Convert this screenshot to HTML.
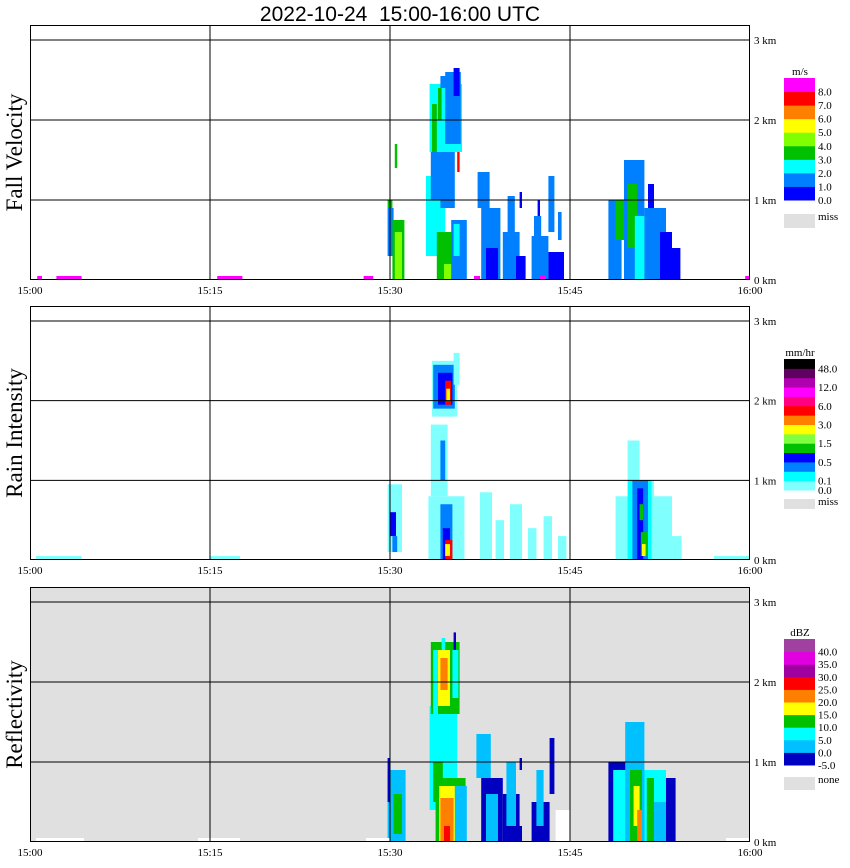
<!DOCTYPE html>
<html><head><meta charset="utf-8"><style>
body{margin:0;background:#fff;width:850px;height:868px;overflow:hidden}
svg{display:block}
text{font-family:"Liberation Serif",serif;fill:#000}
</style></head><body>
<svg id="chart" width="850" height="868" xmlns="http://www.w3.org/2000/svg">
<text x="400" y="21" text-anchor="middle" style="font-family:'Liberation Sans',sans-serif;font-size:21px;white-space:pre">2022-10-24  15:00-16:00 UTC</text>
</svg>
<script>
// time ticks (minutes after 15:00)
const timeTicks=[0,15,30,45,60];
const timeLabels=["15:00","15:15","15:30","15:45","16:00"];
const heightTicks=[0,1,2,3];
const heightLabels=["0 km","1 km","2 km","3 km"];
// colour scales
const velColors=["#0000ff","#0080ff","#00ffff","#00c000","#80ff00","#ffff00","#ff8000","#ff0000","#ff00ff"];
const velLabels=["0.0","1.0","2.0","3.0","4.0","5.0","6.0","7.0","8.0"];
const rainColors=["#80ffff","#00ffff","#0080ff","#0000ff","#00c000","#80ff40","#ffff00","#ff8000","#ff0000","#ff0080","#ff00ff","#b000b0","#600060","#000000"];
const rainLabels=["0.0","0.1","","0.5","","1.5","","3.0","","6.0","","12.0","","48.0"];
const dbzColors=["#0000c0","#00c0ff","#00ffff","#00c000","#ffff00","#ff8000","#ff0000","#a000a0","#e000e0","#a040a0"];
const dbzLabels=["-5.0","0.0","5.0","10.0","15.0","20.0","25.0","30.0","35.0","40.0"];
// echo rectangles [t0,t1,h0,h1,level]
const velRects=[[29.8,30.3,0.3,0.9,1],[29.8,30.2,0.9,1.0,3],[30.2,31.2,0,0.75,3],[30.4,31.0,0,0.6,4],[30.4,30.6,1.4,1.7,3],
[33.0,34.6,0.3,1.3,2],[34.2,35.4,0.9,1.7,1],[33.4,34.4,1.0,1.6,1],[33.3,36.0,1.6,2.45,2],[34.6,35.9,1.7,2.6,1],[33.5,33.9,1.6,2.2,3],[34.0,34.3,2.0,2.4,3],[35.3,35.8,2.3,2.65,0],[34.2,34.7,2.4,2.55,1],[33.9,36.0,0,0.6,3],[34.5,35.2,0,0.2,4],[35.1,36.4,0,0.75,1],[35.3,35.8,0.3,0.7,2],[35.6,35.8,1.35,1.6,7],
[37.3,38.3,0.9,1.35,1],[37.6,39.2,0,0.9,1],[38.0,39.0,0,0.4,0],[39.4,40.8,0,0.6,1],[39.8,40.4,0.6,1.05,1],[40.5,41.3,0,0.3,0],[41.8,43.2,0,0.55,1],[42.0,42.6,0.3,0.8,1],[43.2,44.5,0,0.35,0],[43.2,43.7,0.6,1.3,1],[44.0,44.3,0.5,0.85,1],[40.8,41.0,0.9,1.1,0],[42.3,42.5,0.8,1.0,0],
[48.2,49.3,0,1.0,1],[48.8,49.5,0.5,1.0,3],[49.5,51.2,0,1.5,1],[49.8,50.6,0.4,1.2,3],[50.4,51.5,0,0.8,2],[51.2,53.0,0,0.9,1],[52.5,53.5,0,0.6,0],[53.2,54.2,0,0.4,0],[49.7,50.3,1.2,1.5,1],[51.5,52,0.9,1.2,0],
[0.6,1.0,0,0.05,8],[2.2,4.3,0,0.05,8],[15.6,17.7,0,0.05,8],[27.8,28.6,0,0.05,8],[59.6,60,0,0.05,8],[37,37.5,0,0.05,8],[42.5,43,0,0.05,8]];
const rainRects=[[29.8,31.0,0.1,0.95,0],[30.0,30.5,0.3,0.6,3],[30.2,30.6,0.1,0.3,2],
[33.2,36.2,0,0.8,0],[33.4,34.8,0.8,1.7,0],[34.2,35.2,0,0.7,2],[34.4,35.0,0,0.4,3],[34.6,35.2,0,0.25,8],[34.6,35.0,0.05,0.2,6],[33.5,35.6,1.8,2.5,0],[33.6,35.4,1.9,2.45,2],[34.0,35.2,1.95,2.35,3],[34.6,35.1,1.95,2.25,8],[34.7,35.0,2.0,2.15,6],[35.3,35.8,2.2,2.6,0],[34.2,34.6,1.0,1.5,2],
[37.5,38.5,0,0.85,0],[38.8,39.5,0,0.5,0],[40,41,0,0.7,0],[41.5,42.2,0,0.4,0],[42.8,43.5,0,0.55,0],[44,44.7,0,0.3,0],
[48.8,50,0,0.8,0],[50,52,0,1.0,0],[52,53.5,0,0.8,0],[53.5,54.3,0,0.3,0],[49.8,51.8,0,1.0,1],[50.2,51.5,0,1.0,2],[50.6,51.1,0,0.9,3],[50.8,51.1,0.5,0.7,4],[50.9,51.5,0.05,0.35,4],[51.0,51.3,0.05,0.2,6],[49.8,50.8,1.0,1.5,0],
[0.5,4.3,0,0.05,0],[15.0,17.5,0,0.05,0],[57,60,0,0.05,0]];
const dbzRects=[[29.8,31.3,0,0.9,1],[30.3,31.0,0.1,0.6,3],[29.8,30.0,0.5,1.05,0],
[33.3,35.6,0.4,1.7,2],[33.6,34.4,0.5,1.0,3],[33.8,36.3,0,0.8,3],[34.1,35.5,0,0.7,4],[34.2,35.3,0,0.55,5],[34.5,35.0,0,0.2,6],[35.4,36.4,0,0.7,1],[33.4,35.8,1.6,2.5,3],[33.6,34.0,1.5,2.4,2],[34.0,35.0,1.7,2.4,4],[34.2,34.8,1.9,2.3,5],[35.2,35.7,1.8,2.4,2],[35.3,35.5,2.4,2.62,0],[34.3,34.6,2.4,2.55,2],
[37.2,38.4,0.8,1.35,1],[37.6,39.4,0,0.8,0],[38.0,39.0,0,0.6,1],[39.4,40.8,0,0.6,0],[39.7,40.5,0.2,1.0,1],[41.8,43.3,0,0.5,0],[42.2,42.8,0.2,0.9,1],[43.8,45,0,0.4,-1],[43.3,43.7,0.6,1.3,0],[40.5,41.0,0,0.2,0],[40.8,41,0.9,1.05,0],
[48.2,50.0,0,1.0,0],[48.6,53.0,0,0.9,2],[49.6,51.2,0,1.5,1],[50.0,51.0,0,0.9,3],[50.3,50.8,0.2,0.7,4],[50.6,51.0,0,0.4,5],[51.4,52.0,0,0.8,3],[53,53.8,0,0.8,0],[52.0,53.0,0,0.5,1],
[0.5,4.5,0,0.05,-1],[14,17.5,0,0.05,-1],[28,30,0,0.05,-1],[58,60,0,0.05,-1]];

const NS="http://www.w3.org/2000/svg";
const svg=document.getElementById('chart');
function mk(tag,attrs,parent){const e=document.createElementNS(NS,tag);for(const k in attrs)e.setAttribute(k,attrs[k]);(parent||svg).appendChild(e);return e;}
const X0=30,X1=750;
function xScale(t){return X0+t/60*(X1-X0);}

const panels=[
 {name:"fall-velocity",title:"Fall Velocity",top:25,bottom:280,bg:"#fff",rects:velRects,colors:velColors,labels:velLabels,unit:"m/s",barTop:78,barH:122,miss:"miss",missY:214,missH:14},
 {name:"rain-intensity",title:"Rain Intensity",top:306,bottom:560,bg:"#fff",rects:rainRects,colors:rainColors,labels:rainLabels,unit:"mm/hr",barTop:359,barH:131,miss:"miss",missY:499,missH:10},
 {name:"reflectivity",title:"Reflectivity",top:587,bottom:842,bg:"#e0e0e0",rects:dbzRects,colors:dbzColors,labels:dbzLabels,unit:"dBZ",barTop:639,barH:126,miss:"none",missY:777,missH:13}
];
panels.forEach(p=>{
 const g=mk('g',{});
 
 
 const kmPx=(p.bottom-p.top-15)/3;
 const yScale=h=>p.bottom-h*kmPx;
 const bg=mk('rect',{x:X0,y:p.top,width:X1-X0,height:p.bottom-p.top,fill:p.bg},g);
 
 
 p.rects.forEach(r=>{
  const x0=xScale(r[0]),x1=xScale(r[1]),y0=yScale(r[3]),y1=yScale(r[2]);
  const c=r[4]<0?"#fff":p.colors[r[4]];
  const e=mk('rect',{x:x0,y:y0,width:Math.max(1,x1-x0),height:Math.max(2,y1-y0),fill:c},g);
  
  
 });
 heightTicks.forEach((h,i)=>{
  if(h>0){const l=mk('line',{x1:X0,x2:X1,y1:yScale(h),y2:yScale(h),stroke:"#000","stroke-width":1},g);
   }
  const t=mk('text',{x:754,y:yScale(h)+4,"font-size":11},g);t.textContent=heightLabels[i];
  
 });
 timeTicks.forEach((tm,i)=>{
  if(tm>0&&tm<60){const l=mk('line',{x1:xScale(tm),x2:xScale(tm),y1:p.top,y2:p.bottom,stroke:"#000"},g);
   }
  const t=mk('text',{x:xScale(tm),y:p.bottom+14,"font-size":11,"text-anchor":"middle"},g);t.textContent=timeLabels[i];
  
 });
 const fr=mk('rect',{x:X0+0.5,y:p.top+0.5,width:X1-X0-1,height:p.bottom-p.top-1,fill:"none",stroke:"#000"},g);
 
 const yt=mk('text',{x:0,y:0,"font-size":23,"text-anchor":"middle",transform:`translate(22,${(p.top+p.bottom)/2}) rotate(-90)`},g);
 yt.textContent=p.title;
 const n=p.colors.length,rh=p.barH/n;
 const ut=mk('text',{x:800,y:p.barTop-3,"font-size":11,"text-anchor":"middle"},g);ut.textContent=p.unit;
 
 p.colors.forEach((c,i)=>{
  const yy=p.barTop+(n-1-i)*rh;
  const e=mk('rect',{x:784,y:yy,width:31,height:rh+0.5,fill:c},g);
  
  const lab=p.labels[i];
  if(lab){const t=mk('text',{x:818,y:yy+rh+4,"font-size":11},g);t.textContent=lab;
   }
 });
 const m=mk('rect',{x:784,y:p.missY,width:31,height:p.missH,fill:"#e0e0e0"},g);
 
 const mt=mk('text',{x:818,y:p.missY+6,"font-size":11},g);mt.textContent=p.miss;
 
});
</script>
</body></html>
